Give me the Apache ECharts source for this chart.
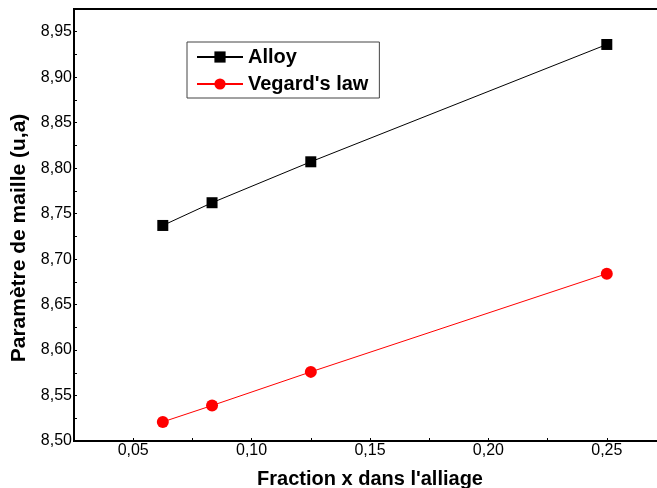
<!DOCTYPE html>
<html>
<head>
<meta charset="utf-8">
<script src="https://cdn.jsdelivr.net/npm/echarts@6/dist/echarts.min.js"></script>
<style>
  html, body { margin: 0; padding: 0; background: #fff; }
  #chart { width: 657px; height: 488px; }
</style>
</head>
<body>
<div id="chart"></div>
<script>
// Composition (fraction x in the alloy)
const fractions = [0.0625, 0.0833, 0.125, 0.25];
// Lattice parameter (u.a.) computed for the alloy
const alloyValues = [8.737, 8.762, 8.807, 8.936];
// Lattice parameter from Vegard's law
const vegardValues = [8.521, 8.539, 8.576, 8.684];

const seriesNames = ['Alloy', "Vegard's law"];
const xTitle = "Fraction x dans l'alliage";
const yTitle = 'Paramètre de maille (u,a)';

const fontFamily = "'Liberation Sans', Arial, Helvetica, sans-serif";

function pairs(xs, ys) {
  return xs.map((x, i) => [x, ys[i]]);
}

// Comma decimal labels, shown only on every 0.05 step
function commaLabel(v) {
  const k = Math.round(v * 1000);
  if (k % 50 !== 0) return '';
  return (k / 1000).toFixed(2).replace('.', ',');
}

const chart = echarts.init(document.getElementById('chart'), null, { renderer: 'canvas' });

chart.setOption({
  animation: false,
  backgroundColor: '#ffffff',
  grid: {
    left: 74, top: 9, right: -9, bottom: 47,
    containLabel: false,
    outerBoundsMode: 'none',
    show: true, borderColor: '#000', borderWidth: 2, backgroundColor: 'transparent'
  },
  legend: {
    left: 187, top: 42,
    orient: 'vertical',
    itemWidth: 46, itemHeight: 14, itemGap: 7,
    padding: [5, 11, 4, 9],
    borderColor: '#444', borderWidth: 1,
    textStyle: { fontFamily, fontSize: 20, fontWeight: 'bold', color: '#000' },
    data: seriesNames
  },
  xAxis: {
    type: 'value',
    min: 0.025, max: 0.275, interval: 0.025,
    name: xTitle,
    nameLocation: 'middle',
    nameGap: 28,
    nameTextStyle: { fontFamily, fontSize: 20, fontWeight: 'bold', color: '#000' },
    axisLine: { lineStyle: { color: '#000', width: 2 } },
    axisTick: { inside: true, length: 3, lineStyle: { color: '#000' } },
    axisLabel: { formatter: commaLabel, fontFamily, fontSize: 16, color: '#000', margin: 2 },
    splitLine: { show: false }
  },
  yAxis: {
    type: 'value',
    min: 8.5, max: 8.975, interval: 0.025,
    name: yTitle,
    nameLocation: 'middle',
    nameGap: 39,
    nameTextStyle: { fontFamily, fontSize: 21, fontWeight: 'bold', color: '#000', padding: [0, 26, 0, 0] },
    axisLine: { lineStyle: { color: '#000', width: 2 } },
    axisTick: { inside: true, length: 3, lineStyle: { color: '#000' } },
    axisLabel: { formatter: commaLabel, fontFamily, fontSize: 16, color: '#000', margin: 2 },
    splitLine: { show: false }
  },
  series: [
    {
      name: seriesNames[0],
      type: 'line',
      data: pairs(fractions, alloyValues),
      symbol: 'rect',
      symbolSize: 11,
      lineStyle: { color: '#000', width: 1 },
      itemStyle: { color: '#000' }
    },
    {
      name: seriesNames[1],
      type: 'line',
      data: pairs(fractions, vegardValues),
      symbol: 'circle',
      symbolSize: 12,
      lineStyle: { color: '#ff0000', width: 1 },
      itemStyle: { color: '#ff0000' }
    }
  ]
});
</script>
</body>
</html>
